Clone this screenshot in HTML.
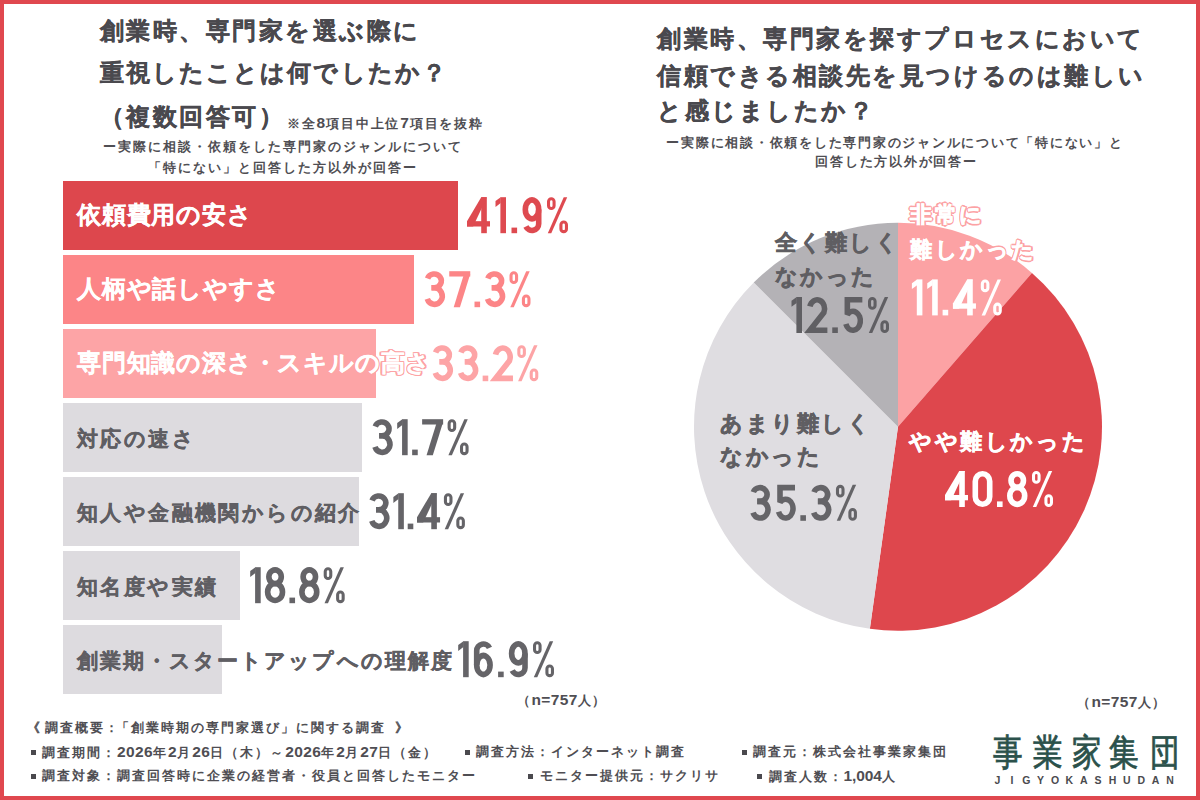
<!DOCTYPE html>
<html lang="ja">
<head>
<meta charset="utf-8">
<style>
html,body{margin:0;padding:0;}
body{width:1200px;height:800px;overflow:hidden;background:#fff;position:relative;font-family:"Liberation Sans",sans-serif;color:#48474b;}
.frame{position:absolute;left:0;top:0;width:1200px;height:800px;box-sizing:border-box;border:4px solid #e0484f;z-index:10;}
.a{position:absolute;white-space:nowrap;}
.bar{position:absolute;left:63px;height:69px;}
svg{position:absolute;left:0;top:0;}
</style>
</head>
<body>
<div class="frame"></div>

<div class="a " style="left:99.70px;top:18.52px;font-size:24.2px;line-height:24.2px;letter-spacing:2.5px;color:#4a494e;font-weight:bold;-webkit-text-stroke:0.35px #4a494e;">創業時、専門家を選ぶ際に</div>
<div class="a " style="left:99.70px;top:60.52px;font-size:24.2px;line-height:24.2px;letter-spacing:2.1px;color:#4a494e;font-weight:bold;-webkit-text-stroke:0.35px #4a494e;">重視したことは何でしたか？</div>
<div class="a " style="left:99.70px;top:104.52px;font-size:24.2px;line-height:24.2px;letter-spacing:2.5px;color:#4a494e;font-weight:bold;-webkit-text-stroke:0.35px #4a494e;">（複数回答可）</div>
<div class="a " style="left:287.00px;top:116.14px;font-size:13px;line-height:13px;letter-spacing:1.8px;color:#4f4e53;font-weight:bold;">※全<span style="font-size:15.5px;letter-spacing:1px">8</span>項目中上位<span style="font-size:15.5px;letter-spacing:1px">7</span>項目を抜粋</div>
<div class="a" style="left:-18.00px;width:600px;text-align:center;top:139.74px;font-size:13px;line-height:13px;letter-spacing:2px;text-indent:2px;color:#4f4e53;font-weight:bold;">ー実際に相談・依頼をした専門家のジャンルについて</div>
<div class="a" style="left:-18.00px;width:600px;text-align:center;top:160.74px;font-size:13px;line-height:13px;letter-spacing:2px;text-indent:2px;color:#4f4e53;font-weight:bold;">「特にない」と回答した方以外が回答ー</div>
<div class="bar" style="top:181px;width:394.7px;background:#dd474d;"></div>
<div class="bar" style="top:255px;width:351.4px;background:#fc8587;"></div>
<div class="bar" style="top:329px;width:312.7px;background:#fda4a6;"></div>
<div class="bar" style="top:403px;width:298.6px;background:#dddbdf;"></div>
<div class="bar" style="top:477px;width:295.8px;background:#dddbdf;"></div>
<div class="bar" style="top:551px;width:177.1px;background:#dddbdf;"></div>
<div class="bar" style="top:625px;width:159.2px;background:#dddbdf;"></div>
<div class="a " style="left:77.00px;top:202.82px;font-size:24px;line-height:24px;letter-spacing:0.8px;color:#fff;font-weight:bold;-webkit-text-stroke:0.35px #fff;">依頼費用の安さ</div>
<div class="a " style="left:77.00px;top:276.82px;font-size:24px;line-height:24px;letter-spacing:0.8px;color:#fff;font-weight:bold;-webkit-text-stroke:0.35px #fff;">人柄や話しやすさ</div>
<div class="a " style="left:77.00px;top:350.82px;font-size:24px;line-height:24px;letter-spacing:0.8px;color:#fff;font-weight:bold;-webkit-text-stroke:0.35px #fff;text-shadow:1.40px 0.00px 0 #fda4a6,1.29px 0.54px 0 #fda4a6,0.99px 0.99px 0 #fda4a6,0.54px 1.29px 0 #fda4a6,0.00px 1.40px 0 #fda4a6,-0.54px 1.29px 0 #fda4a6,-0.99px 0.99px 0 #fda4a6,-1.29px 0.54px 0 #fda4a6,-1.40px 0.00px 0 #fda4a6,-1.29px -0.54px 0 #fda4a6,-0.99px -0.99px 0 #fda4a6,-0.54px -1.29px 0 #fda4a6,-0.00px -1.40px 0 #fda4a6,0.54px -1.29px 0 #fda4a6,0.99px -0.99px 0 #fda4a6,1.29px -0.54px 0 #fda4a6;">専門知識の深さ・スキルの高さ</div>
<div class="a " style="left:77.00px;top:427.88px;font-size:21px;line-height:21px;letter-spacing:2.4px;color:#5f5e63;font-weight:bold;-webkit-text-stroke:0.35px #5f5e63;">対応の速さ</div>
<div class="a " style="left:77.00px;top:501.88px;font-size:21px;line-height:21px;letter-spacing:2.4px;color:#5f5e63;font-weight:bold;-webkit-text-stroke:0.35px #5f5e63;">知人や金融機関からの紹介</div>
<div class="a " style="left:77.00px;top:575.88px;font-size:21px;line-height:21px;letter-spacing:2.4px;color:#5f5e63;font-weight:bold;-webkit-text-stroke:0.35px #5f5e63;">知名度や実績</div>
<div class="a " style="left:77.00px;top:649.88px;font-size:21px;line-height:21px;letter-spacing:2.05px;color:#5f5e63;font-weight:bold;-webkit-text-stroke:0.35px #5f5e63;">創業期・スタートアップへの理解度</div>
<div class="a " style="left:657.00px;top:26.51px;font-size:24.4px;line-height:24.4px;letter-spacing:2.55px;color:#4a494e;font-weight:bold;-webkit-text-stroke:0.35px #4a494e;">創業時、専門家を探すプロセスにおいて</div>
<div class="a " style="left:657.00px;top:63.51px;font-size:24.4px;line-height:24.4px;letter-spacing:2.55px;color:#4a494e;font-weight:bold;-webkit-text-stroke:0.35px #4a494e;">信頼できる相談先を見つけるのは難しい</div>
<div class="a " style="left:657.00px;top:98.51px;font-size:24.4px;line-height:24.4px;letter-spacing:2.55px;color:#4a494e;font-weight:bold;-webkit-text-stroke:0.35px #4a494e;">と感じましたか？</div>
<div class="a" style="left:594.00px;width:600px;text-align:center;top:135.74px;font-size:13px;line-height:13px;letter-spacing:1.75px;text-indent:1.75px;color:#4f4e53;font-weight:bold;">ー実際に相談・依頼をした専門家のジャンルについて「特にない」と</div>
<div class="a" style="left:595.60px;width:600px;text-align:center;top:155.24px;font-size:13px;line-height:13px;letter-spacing:1.75px;text-indent:1.75px;color:#4f4e53;font-weight:bold;">回答した方以外が回答ー</div>
<svg width="1200" height="800" viewBox="0 0 1200 800" font-family="Liberation Sans" font-weight="bold" font-size="50.5">
<path d="M898 426.8 L898.00 222.80 A204 204 0 0 1 1031.94 272.93 Z" fill="#fca2a4"/>
<path d="M898 426.8 L1031.94 272.93 A204 204 0 0 1 869.89 628.85 Z" fill="#de474d"/>
<path d="M898 426.8 L869.89 628.85 A204 204 0 0 1 753.75 282.55 Z" fill="#dfdde1"/>
<path d="M898 426.8 L753.75 282.55 A204 204 0 0 1 898.00 222.80 Z" fill="#b4b2b6"/>
<rect x="481.22" y="197.20" width="5.60" height="36.00" fill="#de4a50"/><rect x="467.00" y="221.18" width="23.00" height="5.32" fill="#de4a50"/><polygon points="481.22,197.20 486.82,197.20 473.16,226.50 467.00,226.50 467.00,221.18" fill="#de4a50"/><rect x="500.40" y="197.20" width="5.60" height="36.00" fill="#de4a50"/><polygon points="500.70,197.20 500.70,203.08 495.50,206.92 495.50,201.04" fill="#de4a50"/><rect x="511.50" y="227.60" width="5.60" height="5.60" fill="#de4a50"/><path d="M525.30,209.40 A6.70,9.40 0 0 1 535.35,201.26 A6.70,9.40 0 0 1 535.35,217.54 A6.70,9.40 0 0 1 525.30,209.40 Z" fill="none" stroke="#de4a50" stroke-width="5.6" stroke-linecap="butt" stroke-linejoin="miter" stroke-miterlimit="3"/><path d="M538.70,209.40 L538.70,223.70 A6.70,6.70 0 0 1 525.93,226.53" fill="none" stroke="#de4a50" stroke-width="5.6" stroke-linecap="butt" stroke-linejoin="miter" stroke-miterlimit="3"/><rect x="548.54" y="198.74" width="5.53" height="9.70" rx="2.76" ry="2.76" fill="none" stroke="#de4a50" stroke-width="3.08"/><rect x="560.93" y="221.96" width="5.53" height="9.70" rx="2.76" ry="2.76" fill="none" stroke="#de4a50" stroke-width="3.08"/><polygon points="547.80,233.20 551.27,233.20 567.20,197.20 563.73,197.20" fill="#de4a50"/>
<path d="M427.56,278.53 A7.07,6.88 0 0 1 439.99,276.93 A7.07,6.88 0 0 1 434.20,287.76 L431.50,287.76" fill="none" stroke="#fc8587" stroke-width="5.6" stroke-linecap="butt" stroke-linejoin="miter" stroke-miterlimit="3"/><path d="M431.50,287.76 L434.50,287.76 A7.70,8.32 0 0 1 440.81,300.85 A7.70,8.32 0 0 1 427.26,298.93" fill="none" stroke="#fc8587" stroke-width="5.6" stroke-linecap="butt" stroke-linejoin="miter" stroke-miterlimit="3"/><rect x="449.25" y="271.20" width="21.00" height="5.32" fill="#fc8587"/><polygon points="463.98,274.00 470.25,274.00 459.95,307.20 453.67,307.20" fill="#fc8587"/><rect x="474.50" y="301.60" width="5.60" height="5.60" fill="#fc8587"/><path d="M487.81,278.53 A7.07,6.88 0 0 1 500.24,276.93 A7.07,6.88 0 0 1 494.45,287.76 L491.75,287.76" fill="none" stroke="#fc8587" stroke-width="5.6" stroke-linecap="butt" stroke-linejoin="miter" stroke-miterlimit="3"/><path d="M491.75,287.76 L494.75,287.76 A7.70,8.32 0 0 1 501.06,300.85 A7.70,8.32 0 0 1 487.51,298.93" fill="none" stroke="#fc8587" stroke-width="5.6" stroke-linecap="butt" stroke-linejoin="miter" stroke-miterlimit="3"/><rect x="511.04" y="272.74" width="5.53" height="9.70" rx="2.76" ry="2.76" fill="none" stroke="#fc8587" stroke-width="3.08"/><rect x="523.43" y="295.96" width="5.53" height="9.70" rx="2.76" ry="2.76" fill="none" stroke="#fc8587" stroke-width="3.08"/><polygon points="510.30,307.20 513.77,307.20 529.70,271.20 526.23,271.20" fill="#fc8587"/>
<path d="M435.56,352.53 A7.07,6.88 0 0 1 447.99,350.93 A7.07,6.88 0 0 1 442.20,361.76 L439.50,361.76" fill="none" stroke="#fda4a6" stroke-width="5.6" stroke-linecap="butt" stroke-linejoin="miter" stroke-miterlimit="3"/><path d="M439.50,361.76 L442.50,361.76 A7.70,8.32 0 0 1 448.81,374.85 A7.70,8.32 0 0 1 435.26,372.93" fill="none" stroke="#fda4a6" stroke-width="5.6" stroke-linecap="butt" stroke-linejoin="miter" stroke-miterlimit="3"/><path d="M460.88,352.53 A7.07,6.88 0 0 1 473.32,350.93 A7.07,6.88 0 0 1 467.52,361.76 L464.82,361.76" fill="none" stroke="#fda4a6" stroke-width="5.6" stroke-linecap="butt" stroke-linejoin="miter" stroke-miterlimit="3"/><path d="M464.82,361.76 L467.82,361.76 A7.70,8.32 0 0 1 474.13,374.85 A7.70,8.32 0 0 1 460.59,372.93" fill="none" stroke="#fda4a6" stroke-width="5.6" stroke-linecap="butt" stroke-linejoin="miter" stroke-miterlimit="3"/><rect x="482.65" y="375.60" width="5.60" height="5.60" fill="#fda4a6"/><path d="M495.53,354.67 A7.45,9.00 0 0 1 505.27,348.54 A7.45,9.00 0 0 1 509.48,360.80 L495.55,378.40 L512.97,378.40" fill="none" stroke="#fda4a6" stroke-width="5.6" stroke-linecap="butt" stroke-linejoin="miter" stroke-miterlimit="3"/><rect x="518.84" y="346.74" width="5.53" height="9.70" rx="2.76" ry="2.76" fill="none" stroke="#fda4a6" stroke-width="3.08"/><rect x="531.23" y="369.96" width="5.53" height="9.70" rx="2.76" ry="2.76" fill="none" stroke="#fda4a6" stroke-width="3.08"/><polygon points="518.10,381.20 521.57,381.20 537.50,345.20 534.03,345.20" fill="#fda4a6"/>
<path d="M375.26,426.53 A7.07,6.88 0 0 1 387.69,424.93 A7.07,6.88 0 0 1 381.90,435.76 L379.20,435.76" fill="none" stroke="#656468" stroke-width="5.6" stroke-linecap="butt" stroke-linejoin="miter" stroke-miterlimit="3"/><path d="M379.20,435.76 L382.20,435.76 A7.70,8.32 0 0 1 388.51,448.85 A7.70,8.32 0 0 1 374.96,446.93" fill="none" stroke="#656468" stroke-width="5.6" stroke-linecap="butt" stroke-linejoin="miter" stroke-miterlimit="3"/><rect x="402.07" y="419.20" width="5.60" height="36.00" fill="#656468"/><polygon points="402.38,419.20 402.38,425.08 397.18,428.92 397.18,423.04" fill="#656468"/><rect x="412.15" y="449.60" width="5.60" height="5.60" fill="#656468"/><rect x="422.13" y="419.20" width="21.00" height="5.32" fill="#656468"/><polygon points="436.85,422.00 443.13,422.00 432.82,455.20 426.55,455.20" fill="#656468"/><rect x="449.14" y="420.74" width="5.53" height="9.70" rx="2.76" ry="2.76" fill="none" stroke="#656468" stroke-width="3.08"/><rect x="461.53" y="443.96" width="5.53" height="9.70" rx="2.76" ry="2.76" fill="none" stroke="#656468" stroke-width="3.08"/><polygon points="448.40,455.20 451.87,455.20 467.80,419.20 464.33,419.20" fill="#656468"/>
<path d="M372.06,500.53 A7.07,6.88 0 0 1 384.49,498.93 A7.07,6.88 0 0 1 378.70,509.76 L376.00,509.76" fill="none" stroke="#656468" stroke-width="5.6" stroke-linecap="butt" stroke-linejoin="miter" stroke-miterlimit="3"/><path d="M376.00,509.76 L379.00,509.76 A7.70,8.32 0 0 1 385.31,522.85 A7.70,8.32 0 0 1 371.76,520.93" fill="none" stroke="#656468" stroke-width="5.6" stroke-linecap="butt" stroke-linejoin="miter" stroke-miterlimit="3"/><rect x="398.25" y="493.20" width="5.60" height="36.00" fill="#656468"/><polygon points="398.55,493.20 398.55,499.08 393.35,502.92 393.35,497.04" fill="#656468"/><rect x="407.70" y="523.60" width="5.60" height="5.60" fill="#656468"/><rect x="431.27" y="493.20" width="5.60" height="36.00" fill="#656468"/><rect x="417.05" y="517.18" width="23.00" height="5.32" fill="#656468"/><polygon points="431.27,493.20 436.87,493.20 423.21,522.50 417.05,522.50 417.05,517.18" fill="#656468"/><rect x="445.44" y="494.74" width="5.53" height="9.70" rx="2.76" ry="2.76" fill="none" stroke="#656468" stroke-width="3.08"/><rect x="457.83" y="517.96" width="5.53" height="9.70" rx="2.76" ry="2.76" fill="none" stroke="#656468" stroke-width="3.08"/><polygon points="444.70,529.20 448.17,529.20 464.10,493.20 460.63,493.20" fill="#656468"/>
<rect x="255.10" y="567.20" width="5.60" height="36.00" fill="#656468"/><polygon points="255.40,567.20 255.40,573.08 250.20,576.92 250.20,571.04" fill="#656468"/><path d="M268.85,576.79 A6.22,6.79 0 0 1 278.19,570.91 A6.22,6.79 0 0 1 278.19,582.67 A6.22,6.79 0 0 1 268.85,576.79 Z" fill="none" stroke="#656468" stroke-width="5.6" stroke-linecap="butt" stroke-linejoin="miter" stroke-miterlimit="3"/><path d="M267.62,591.99 A7.45,8.41 0 0 1 278.80,584.71 A7.45,8.41 0 0 1 278.80,599.27 A7.45,8.41 0 0 1 267.62,591.99 Z" fill="none" stroke="#656468" stroke-width="5.6" stroke-linecap="butt" stroke-linejoin="miter" stroke-miterlimit="3"/><rect x="289.45" y="597.60" width="5.60" height="5.60" fill="#656468"/><path d="M303.10,576.79 A6.22,6.79 0 0 1 312.44,570.91 A6.22,6.79 0 0 1 312.44,582.67 A6.22,6.79 0 0 1 303.10,576.79 Z" fill="none" stroke="#656468" stroke-width="5.6" stroke-linecap="butt" stroke-linejoin="miter" stroke-miterlimit="3"/><path d="M301.88,591.99 A7.45,8.41 0 0 1 313.05,584.71 A7.45,8.41 0 0 1 313.05,599.27 A7.45,8.41 0 0 1 301.88,591.99 Z" fill="none" stroke="#656468" stroke-width="5.6" stroke-linecap="butt" stroke-linejoin="miter" stroke-miterlimit="3"/><rect x="325.24" y="568.74" width="5.53" height="9.70" rx="2.76" ry="2.76" fill="none" stroke="#656468" stroke-width="3.08"/><rect x="337.63" y="591.96" width="5.53" height="9.70" rx="2.76" ry="2.76" fill="none" stroke="#656468" stroke-width="3.08"/><polygon points="324.50,603.20 327.97,603.20 343.90,567.20 340.43,567.20" fill="#656468"/>
<rect x="463.10" y="641.20" width="5.60" height="36.00" fill="#656468"/><polygon points="463.40,641.20 463.40,647.08 458.20,650.92 458.20,645.04" fill="#656468"/><path d="M476.70,665.00 A6.70,9.40 0 0 1 486.75,656.86 A6.70,9.40 0 0 1 486.75,673.14 A6.70,9.40 0 0 1 476.70,665.00 Z" fill="none" stroke="#656468" stroke-width="5.6" stroke-linecap="butt" stroke-linejoin="miter" stroke-miterlimit="3"/><path d="M476.70,665.00 L476.70,650.70 A6.70,6.70 0 0 1 489.47,647.87" fill="none" stroke="#656468" stroke-width="5.6" stroke-linecap="butt" stroke-linejoin="miter" stroke-miterlimit="3"/><rect x="498.10" y="671.60" width="5.60" height="5.60" fill="#656468"/><path d="M511.60,653.40 A6.70,9.40 0 0 1 521.65,645.26 A6.70,9.40 0 0 1 521.65,661.54 A6.70,9.40 0 0 1 511.60,653.40 Z" fill="none" stroke="#656468" stroke-width="5.6" stroke-linecap="butt" stroke-linejoin="miter" stroke-miterlimit="3"/><path d="M525.00,653.40 L525.00,667.70 A6.70,6.70 0 0 1 512.23,670.53" fill="none" stroke="#656468" stroke-width="5.6" stroke-linecap="butt" stroke-linejoin="miter" stroke-miterlimit="3"/><rect x="534.54" y="642.74" width="5.53" height="9.70" rx="2.76" ry="2.76" fill="none" stroke="#656468" stroke-width="3.08"/><rect x="546.93" y="665.96" width="5.53" height="9.70" rx="2.76" ry="2.76" fill="none" stroke="#656468" stroke-width="3.08"/><polygon points="533.80,677.20 537.27,677.20 553.20,641.20 549.73,641.20" fill="#656468"/>
<rect x="916.80" y="279.40" width="5.60" height="36.00" fill="#ffffff"/><polygon points="917.10,279.40 917.10,285.28 911.90,289.12 911.90,283.24" fill="#ffffff"/><rect x="932.15" y="279.40" width="5.60" height="36.00" fill="#ffffff"/><polygon points="932.45,279.40 932.45,285.28 927.25,289.12 927.25,283.24" fill="#ffffff"/><rect x="942.60" y="309.80" width="5.60" height="5.60" fill="#ffffff"/><rect x="967.17" y="279.40" width="5.60" height="36.00" fill="#ffffff"/><rect x="952.95" y="303.38" width="23.00" height="5.32" fill="#ffffff"/><polygon points="967.17,279.40 972.77,279.40 959.11,308.70 952.95,308.70 952.95,303.38" fill="#ffffff"/><rect x="982.34" y="280.94" width="5.53" height="9.70" rx="2.76" ry="2.76" fill="none" stroke="#ffffff" stroke-width="3.08"/><rect x="994.73" y="304.16" width="5.53" height="9.70" rx="2.76" ry="2.76" fill="none" stroke="#ffffff" stroke-width="3.08"/><polygon points="981.60,315.40 985.07,315.40 1001.00,279.40 997.53,279.40" fill="#ffffff"/>
<rect x="796.40" y="297.00" width="5.60" height="36.00" fill="#605f63"/><polygon points="796.70,297.00 796.70,302.88 791.50,306.72 791.50,300.84" fill="#605f63"/><path d="M809.93,306.47 A7.45,9.00 0 0 1 819.67,300.34 A7.45,9.00 0 0 1 823.88,312.60 L809.96,330.20 L827.38,330.20" fill="none" stroke="#605f63" stroke-width="5.6" stroke-linecap="butt" stroke-linejoin="miter" stroke-miterlimit="3"/><rect x="832.25" y="327.40" width="5.60" height="5.60" fill="#605f63"/><path d="M862.33,299.80 L847.34,299.80 L847.34,314.51 A7.45,9.40 0 0 1 860.19,322.59 A7.45,9.40 0 0 1 845.87,324.01" fill="none" stroke="#605f63" stroke-width="5.6" stroke-linecap="butt" stroke-linejoin="miter" stroke-miterlimit="3"/><rect x="869.54" y="298.54" width="5.53" height="9.70" rx="2.76" ry="2.76" fill="none" stroke="#605f63" stroke-width="3.08"/><rect x="881.93" y="321.76" width="5.53" height="9.70" rx="2.76" ry="2.76" fill="none" stroke="#605f63" stroke-width="3.08"/><polygon points="868.80,333.00 872.27,333.00 888.20,297.00 884.73,297.00" fill="#605f63"/>
<rect x="959.22" y="471.00" width="5.60" height="36.00" fill="#ffffff"/><rect x="945.00" y="494.98" width="23.00" height="5.32" fill="#ffffff"/><polygon points="959.22,471.00 964.82,471.00 951.16,500.30 945.00,500.30 945.00,494.98" fill="#ffffff"/><path d="M975.30,481.36 A7.20,7.56 0 0 1 989.70,481.36 L989.70,496.64 A7.20,7.56 0 0 1 975.30,496.64 Z" fill="none" stroke="#ffffff" stroke-width="5.6" stroke-linecap="butt" stroke-linejoin="miter" stroke-miterlimit="3"/><rect x="997.00" y="501.40" width="5.60" height="5.60" fill="#ffffff"/><path d="M1011.03,480.59 A6.22,6.79 0 0 1 1020.36,474.71 A6.22,6.79 0 0 1 1020.36,486.47 A6.22,6.79 0 0 1 1011.03,480.59 Z" fill="none" stroke="#ffffff" stroke-width="5.6" stroke-linecap="butt" stroke-linejoin="miter" stroke-miterlimit="3"/><path d="M1009.80,495.79 A7.45,8.41 0 0 1 1020.98,488.51 A7.45,8.41 0 0 1 1020.98,503.07 A7.45,8.41 0 0 1 1009.80,495.79 Z" fill="none" stroke="#ffffff" stroke-width="5.6" stroke-linecap="butt" stroke-linejoin="miter" stroke-miterlimit="3"/><rect x="1033.54" y="472.54" width="5.53" height="9.70" rx="2.76" ry="2.76" fill="none" stroke="#ffffff" stroke-width="3.08"/><rect x="1045.93" y="495.76" width="5.53" height="9.70" rx="2.76" ry="2.76" fill="none" stroke="#ffffff" stroke-width="3.08"/><polygon points="1032.80,507.00 1036.27,507.00 1052.20,471.00 1048.73,471.00" fill="#ffffff"/>
<path d="M753.31,492.13 A7.07,6.88 0 0 1 765.74,490.53 A7.07,6.88 0 0 1 759.95,501.36 L757.25,501.36" fill="none" stroke="#656468" stroke-width="5.6" stroke-linecap="butt" stroke-linejoin="miter" stroke-miterlimit="3"/><path d="M757.25,501.36 L760.25,501.36 A7.70,8.32 0 0 1 766.56,514.45 A7.70,8.32 0 0 1 753.01,512.53" fill="none" stroke="#656468" stroke-width="5.6" stroke-linecap="butt" stroke-linejoin="miter" stroke-miterlimit="3"/><path d="M795.00,487.60 L780.01,487.60 L780.01,502.31 A7.45,9.40 0 0 1 792.86,510.39 A7.45,9.40 0 0 1 778.55,511.81" fill="none" stroke="#656468" stroke-width="5.6" stroke-linecap="butt" stroke-linejoin="miter" stroke-miterlimit="3"/><rect x="800.35" y="515.20" width="5.60" height="5.60" fill="#656468"/><path d="M813.96,492.13 A7.07,6.88 0 0 1 826.39,490.53 A7.07,6.88 0 0 1 820.60,501.36 L817.90,501.36" fill="none" stroke="#656468" stroke-width="5.6" stroke-linecap="butt" stroke-linejoin="miter" stroke-miterlimit="3"/><path d="M817.90,501.36 L820.90,501.36 A7.70,8.32 0 0 1 827.21,514.45 A7.70,8.32 0 0 1 813.66,512.53" fill="none" stroke="#656468" stroke-width="5.6" stroke-linecap="butt" stroke-linejoin="miter" stroke-miterlimit="3"/><rect x="837.49" y="486.34" width="5.53" height="9.70" rx="2.76" ry="2.76" fill="none" stroke="#656468" stroke-width="3.08"/><rect x="849.88" y="509.56" width="5.53" height="9.70" rx="2.76" ry="2.76" fill="none" stroke="#656468" stroke-width="3.08"/><polygon points="836.75,520.80 840.22,520.80 856.15,484.80 852.68,484.80" fill="#656468"/>
</svg>
<div class="a " style="left:910.00px;top:203.56px;font-size:22px;line-height:22px;letter-spacing:2.6px;color:#fff;font-weight:bold;-webkit-text-stroke:0.6px #fff;text-shadow:1.60px 0.00px 0 #fca2a4,1.48px 0.61px 0 #fca2a4,1.13px 1.13px 0 #fca2a4,0.61px 1.48px 0 #fca2a4,0.00px 1.60px 0 #fca2a4,-0.61px 1.48px 0 #fca2a4,-1.13px 1.13px 0 #fca2a4,-1.48px 0.61px 0 #fca2a4,-1.60px 0.00px 0 #fca2a4,-1.48px -0.61px 0 #fca2a4,-1.13px -1.13px 0 #fca2a4,-0.61px -1.48px 0 #fca2a4,-0.00px -1.60px 0 #fca2a4,0.61px -1.48px 0 #fca2a4,1.13px -1.13px 0 #fca2a4,1.48px -0.61px 0 #fca2a4;">非常に</div>
<div class="a " style="left:910.00px;top:239.06px;font-size:22px;line-height:22px;letter-spacing:2.6px;color:#fff;font-weight:bold;-webkit-text-stroke:0.6px #fff;text-shadow:1.60px 0.00px 0 #fca2a4,1.48px 0.61px 0 #fca2a4,1.13px 1.13px 0 #fca2a4,0.61px 1.48px 0 #fca2a4,0.00px 1.60px 0 #fca2a4,-0.61px 1.48px 0 #fca2a4,-1.13px 1.13px 0 #fca2a4,-1.48px 0.61px 0 #fca2a4,-1.60px 0.00px 0 #fca2a4,-1.48px -0.61px 0 #fca2a4,-1.13px -1.13px 0 #fca2a4,-0.61px -1.48px 0 #fca2a4,-0.00px -1.60px 0 #fca2a4,0.61px -1.48px 0 #fca2a4,1.13px -1.13px 0 #fca2a4,1.48px -0.61px 0 #fca2a4;">難しかった</div>
<div class="a " style="left:774.50px;top:231.56px;font-size:22px;line-height:22px;letter-spacing:2.6px;color:#5f5e62;font-weight:bold;-webkit-text-stroke:0.6px #5f5e62;">全く難しく</div>
<div class="a " style="left:774.50px;top:265.56px;font-size:22px;line-height:22px;letter-spacing:2.6px;color:#5f5e62;font-weight:bold;-webkit-text-stroke:0.6px #5f5e62;">なかった</div>
<div class="a " style="left:909.00px;top:431.26px;font-size:22px;line-height:22px;letter-spacing:2.6px;color:#fff;font-weight:bold;-webkit-text-stroke:0.6px #fff;">やや難しかった</div>
<div class="a " style="left:720.00px;top:412.56px;font-size:22px;line-height:22px;letter-spacing:2.6px;color:#5f5e62;font-weight:bold;-webkit-text-stroke:0.6px #5f5e62;">あまり難しく</div>
<div class="a " style="left:720.00px;top:446.26px;font-size:22px;line-height:22px;letter-spacing:2.6px;color:#5f5e62;font-weight:bold;-webkit-text-stroke:0.6px #5f5e62;">なかった</div>
<div class="a " style="left:517.00px;top:692.74px;font-size:13px;line-height:13px;letter-spacing:1.5px;color:#4f4e53;font-weight:bold;">（<span style="font-size:15.5px;letter-spacing:0.4px">n=757</span>人）</div>
<div class="a " style="left:1077.00px;top:694.74px;font-size:13px;line-height:13px;letter-spacing:1.5px;color:#4f4e53;font-weight:bold;">（<span style="font-size:15.5px;letter-spacing:0.4px">n=757</span>人）</div>
<div class="a " style="left:27.00px;top:721.24px;font-size:13px;line-height:13px;letter-spacing:2px;color:#4f4e53;font-weight:bold;">《</div>
<div class="a " style="left:45.00px;top:721.24px;font-size:13px;line-height:13px;letter-spacing:2px;color:#4f4e53;font-weight:bold;">調査概要：</div>
<div class="a " style="left:116.00px;top:721.24px;font-size:13px;line-height:13px;letter-spacing:2px;color:#4f4e53;font-weight:bold;">「</div>
<div class="a " style="left:131.00px;top:721.24px;font-size:13px;line-height:13px;letter-spacing:2px;color:#4f4e53;font-weight:bold;">創業時期の専門家選び」に関する調査</div>
<div class="a " style="left:395.00px;top:721.24px;font-size:13px;line-height:13px;letter-spacing:2px;color:#4f4e53;font-weight:bold;">》</div>
<div class="a" style="left:30.5px;top:749.5px;width:5px;height:5px;background:#4a494e"></div>
<div class="a " style="left:42.00px;top:744.74px;font-size:13px;line-height:13px;letter-spacing:2px;color:#4f4e53;font-weight:bold;">調査期間：<span style="font-size:15.5px;letter-spacing:0.4px">2026</span>年<span style="font-size:15.5px;letter-spacing:0.4px">2</span>月<span style="font-size:15.5px;letter-spacing:0.4px">26</span>日（木）～<span style="font-size:15.5px;letter-spacing:0.4px">2026</span>年<span style="font-size:15.5px;letter-spacing:0.4px">2</span>月<span style="font-size:15.5px;letter-spacing:0.4px">27</span>日（金）</div>
<div class="a" style="left:30.5px;top:773.5px;width:5px;height:5px;background:#4a494e"></div>
<div class="a " style="left:41.50px;top:768.74px;font-size:13px;line-height:13px;letter-spacing:2px;color:#4f4e53;font-weight:bold;">調査対象：調査回答時に企業の経営者・役員と回答したモニター</div>
<div class="a" style="left:465.4px;top:749.5px;width:5px;height:5px;background:#4a494e"></div>
<div class="a " style="left:476.20px;top:744.74px;font-size:13px;line-height:13px;letter-spacing:2px;color:#4f4e53;font-weight:bold;">調査方法：インターネット調査</div>
<div class="a" style="left:528.2px;top:773.5px;width:5px;height:5px;background:#4a494e"></div>
<div class="a " style="left:539.50px;top:768.74px;font-size:13px;line-height:13px;letter-spacing:2px;color:#4f4e53;font-weight:bold;">モニター提供元：サクリサ</div>
<div class="a" style="left:741.5px;top:749.5px;width:5px;height:5px;background:#4a494e"></div>
<div class="a " style="left:752.80px;top:744.74px;font-size:13px;line-height:13px;letter-spacing:2px;color:#4f4e53;font-weight:bold;">調査元：株式会社事業家集団</div>
<div class="a" style="left:757px;top:773.5px;width:5px;height:5px;background:#4a494e"></div>
<div class="a " style="left:768.50px;top:768.74px;font-size:13px;line-height:13px;letter-spacing:2px;color:#4f4e53;font-weight:bold;">調査人数：<span style="font-size:15.5px;letter-spacing:-0.1px">1,004</span>人</div>
<div class="a" style="left:993.0px;top:734.57px;font-size:36.5px;line-height:36.5px;color:#2b514b;font-weight:normal;-webkit-text-stroke:0.8px #2b514b;transform:scaleX(0.8);transform-origin:0 0;">事</div>
<div class="a" style="left:1033.0px;top:734.57px;font-size:36.5px;line-height:36.5px;color:#2b514b;font-weight:normal;-webkit-text-stroke:0.8px #2b514b;transform:scaleX(0.8);transform-origin:0 0;">業</div>
<div class="a" style="left:1072.2px;top:734.57px;font-size:36.5px;line-height:36.5px;color:#2b514b;font-weight:normal;-webkit-text-stroke:0.8px #2b514b;transform:scaleX(0.8);transform-origin:0 0;">家</div>
<div class="a" style="left:1108.5px;top:734.57px;font-size:36.5px;line-height:36.5px;color:#2b514b;font-weight:normal;-webkit-text-stroke:0.8px #2b514b;transform:scaleX(0.8);transform-origin:0 0;">集</div>
<div class="a" style="left:1149.5px;top:734.57px;font-size:36.5px;line-height:36.5px;color:#2b514b;font-weight:normal;-webkit-text-stroke:0.8px #2b514b;transform:scaleX(0.8);transform-origin:0 0;">団</div>
<div class="a" style="left:987.50px;width:20px;text-align:center;top:774px;font-size:10.5px;line-height:13px;color:#4a4a4e;font-weight:bold;">J</div>
<div class="a" style="left:1001.88px;width:20px;text-align:center;top:774px;font-size:10.5px;line-height:13px;color:#4a4a4e;font-weight:bold;">I</div>
<div class="a" style="left:1016.25px;width:20px;text-align:center;top:774px;font-size:10.5px;line-height:13px;color:#4a4a4e;font-weight:bold;">G</div>
<div class="a" style="left:1030.62px;width:20px;text-align:center;top:774px;font-size:10.5px;line-height:13px;color:#4a4a4e;font-weight:bold;">Y</div>
<div class="a" style="left:1045.00px;width:20px;text-align:center;top:774px;font-size:10.5px;line-height:13px;color:#4a4a4e;font-weight:bold;">O</div>
<div class="a" style="left:1059.38px;width:20px;text-align:center;top:774px;font-size:10.5px;line-height:13px;color:#4a4a4e;font-weight:bold;">K</div>
<div class="a" style="left:1073.75px;width:20px;text-align:center;top:774px;font-size:10.5px;line-height:13px;color:#4a4a4e;font-weight:bold;">A</div>
<div class="a" style="left:1088.12px;width:20px;text-align:center;top:774px;font-size:10.5px;line-height:13px;color:#4a4a4e;font-weight:bold;">S</div>
<div class="a" style="left:1102.50px;width:20px;text-align:center;top:774px;font-size:10.5px;line-height:13px;color:#4a4a4e;font-weight:bold;">H</div>
<div class="a" style="left:1116.88px;width:20px;text-align:center;top:774px;font-size:10.5px;line-height:13px;color:#4a4a4e;font-weight:bold;">U</div>
<div class="a" style="left:1131.25px;width:20px;text-align:center;top:774px;font-size:10.5px;line-height:13px;color:#4a4a4e;font-weight:bold;">D</div>
<div class="a" style="left:1145.62px;width:20px;text-align:center;top:774px;font-size:10.5px;line-height:13px;color:#4a4a4e;font-weight:bold;">A</div>
<div class="a" style="left:1160.00px;width:20px;text-align:center;top:774px;font-size:10.5px;line-height:13px;color:#4a4a4e;font-weight:bold;">N</div>
</body>
</html>
